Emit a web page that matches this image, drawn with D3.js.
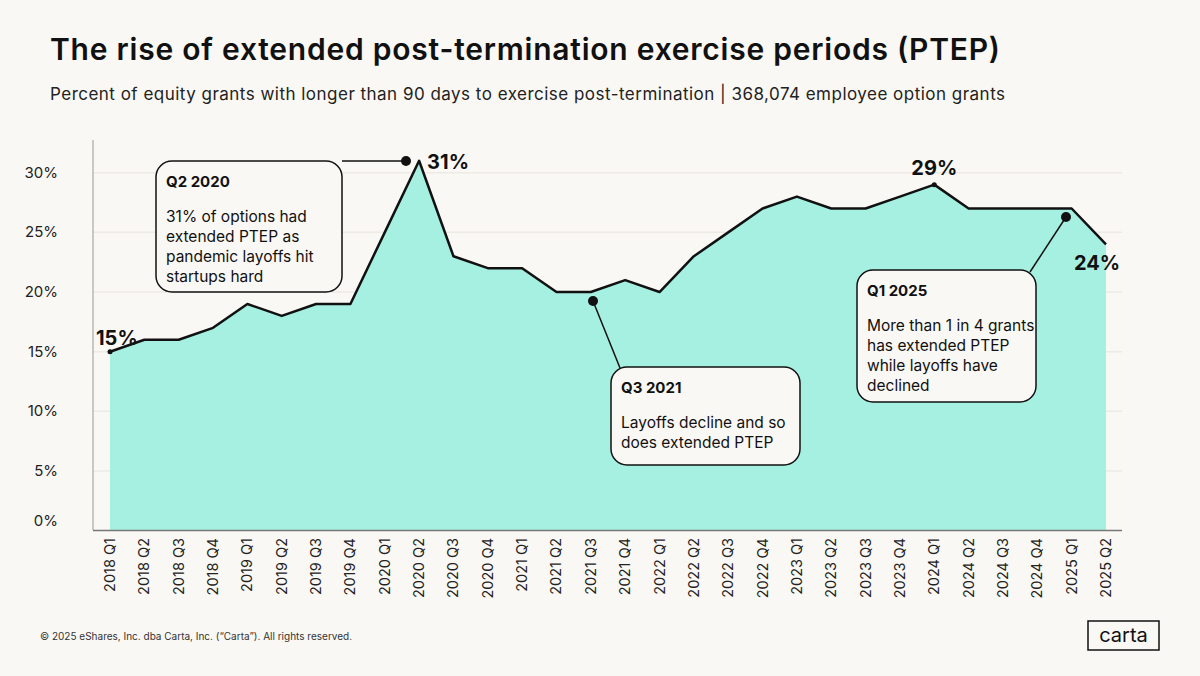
<!DOCTYPE html><html><head><meta charset="utf-8">
<script src="https://cdn.jsdelivr.net/npm/d3@7"></script>
<style>body{margin:0;background:#faf8f4;font-family:Inter,"Open Sans",sans-serif}</style></head><body>
<svg id="c" width="1200" height="676"></svg>
<script>
const quarters=["2018 Q1","2018 Q2","2018 Q3","2018 Q4","2019 Q1","2019 Q2","2019 Q3","2019 Q4","2020 Q1","2020 Q2","2020 Q3","2020 Q4","2021 Q1","2021 Q2","2021 Q3","2021 Q4","2022 Q1","2022 Q2","2022 Q3","2022 Q4","2023 Q1","2023 Q2","2023 Q3","2023 Q4","2024 Q1","2024 Q2","2024 Q3","2024 Q4","2025 Q1","2025 Q2"];
const values=[15,16,16,17,19,18,19,19,25,31,23,22,22,20,20,21,20,23,25,27,28,27,27,28,29,27,27,27,27,24];
const yTicks=[0,5,10,15,20,25,30];
const pointLabels=[{q:"2018 Q1",t:"15%"},{q:"2020 Q2",t:"31%"},{q:"2024 Q1",t:"29%"},{q:"2025 Q2",t:"24%"}];

const svg=d3.select("#c");
svg.append("rect").attr("width",1200).attr("height",676).attr("fill","#faf8f4");
svg.append("text").attr("x",50).attr("y",60).attr("font-size",30).attr("font-weight",600).attr("fill","#111").attr("textLength",950).attr("lengthAdjust","spacing").text("The rise of extended post-termination exercise periods (PTEP)");
svg.append("text").attr("x",50).attr("y",100).attr("font-size",17).attr("fill","#222").attr("textLength",955).attr("lengthAdjust","spacing").text("Percent of equity grants with longer than 90 days to exercise post-termination  |  368,074 employee option grants");

const x=d3.scalePoint().domain(quarters).range([110,1106]);
const y=d3.scaleLinear().domain([0,30]).range([530.7,172.7]);
const g=svg.append("g");
yTicks.forEach(t=>{ if(t>0) g.append("line").attr("x1",93).attr("x2",1122).attr("y1",y(t)).attr("y2",y(t)).attr("stroke","#eeeae4").attr("stroke-width",1.5);
 g.append("text").attr("x",58).attr("y",(t===0?y(t)-10:y(t))+5).attr("text-anchor","end").attr("font-size",15).attr("fill","#222").text(t+"%");});
const data=quarters.map((q,i)=>({q,v:values[i]}));
g.append("path").datum(data).attr("fill","#a6f0e2").attr("d",d3.area().x(d=>x(d.q)).y0(y(0)).y1(d=>y(d.v)));
g.append("path").datum(data).attr("fill","none").attr("stroke","#111").attr("stroke-width",2.5).attr("stroke-linejoin","round").attr("d",d3.line().x(d=>x(d.q)).y(d=>y(d.v)));
g.append("line").attr("x1",93).attr("x2",93).attr("y1",140).attr("y2",530).attr("stroke","#999");
g.append("line").attr("x1",93).attr("x2",1122).attr("y1",530.5).attr("y2",530.5).attr("stroke","#777").attr("stroke-width",1.5);
quarters.forEach(q=>{g.append("text").attr("transform",`translate(${x(q)+5},538) rotate(-90)`).attr("text-anchor","end").attr("font-size",14.5).attr("fill","#222").text(q);});
g.append("circle").attr("cx",x("2018 Q1")).attr("cy",y(15)).attr("r",2.5).attr("fill","#111");
g.append("circle").attr("cx",x("2024 Q1")).attr("cy",y(29)).attr("r",2.5).attr("fill","#111");
const lblPos={"2018 Q1":[-14,-7,"start"],"2020 Q2":[8,8,"start"],"2024 Q1":[0,-10,"middle"],"2025 Q2":[-32,26,"start"]};
pointLabels.forEach(p=>{const v=values[quarters.indexOf(p.q)],o=lblPos[p.q];
 g.append("text").attr("x",x(p.q)+o[0]).attr("y",y(v)+o[1]).attr("text-anchor",o[2]).attr("font-size",20).attr("font-weight",700).attr("fill","#111").text(p.t);});
function callout(bx,by,bw,bh,title,lines){
 const a=svg.append("g");
 a.append("rect").attr("x",bx).attr("y",by).attr("width",bw).attr("height",bh).attr("rx",16).attr("fill","#faf8f4").attr("stroke","#111").attr("stroke-width",1.5);
 a.append("text").attr("x",bx+10).attr("y",by+26).attr("font-size",15).attr("font-weight",700).attr("fill","#111").text(title);
 lines.forEach((l,i)=>a.append("text").attr("x",bx+10).attr("y",by+61+i*20).attr("font-size",15.5).attr("fill","#111").text(l));
}
function connector(x1,y1,x2,y2){svg.append("line").attr("x1",x1).attr("y1",y1).attr("x2",x2).attr("y2",y2).attr("stroke","#111").attr("stroke-width",1.5);
 svg.append("circle").attr("cx",x2).attr("cy",y2).attr("r",5).attr("fill","#111");}
connector(342,161,406,161);
callout(156,161,186,131,"Q2 2020",["31% of options had","extended PTEP as","pandemic layoffs hit","startups hard"]);
connector(620,368,593,301);
callout(611,367,189,98,"Q3 2021",["Layoffs decline and so","does extended PTEP"]);
connector(1030,272,1066,217);
callout(857,270,179,132,"Q1 2025",["More than 1 in 4 grants","has extended PTEP","while layoffs have","declined"]);
svg.append("text").attr("x",40).attr("y",640).attr("font-size",10).attr("fill","#333").text("© 2025 eShares, Inc. dba Carta, Inc. (\u201cCarta\u201d). All rights reserved.");
svg.append("rect").attr("x",1088).attr("y",621).attr("width",71).attr("height",29).attr("fill","none").attr("stroke","#111").attr("stroke-width",1.5);
svg.append("text").attr("x",1123.5).attr("y",642).attr("text-anchor","middle").attr("font-size",20).attr("fill","#111").text("carta");
</script></body></html>
